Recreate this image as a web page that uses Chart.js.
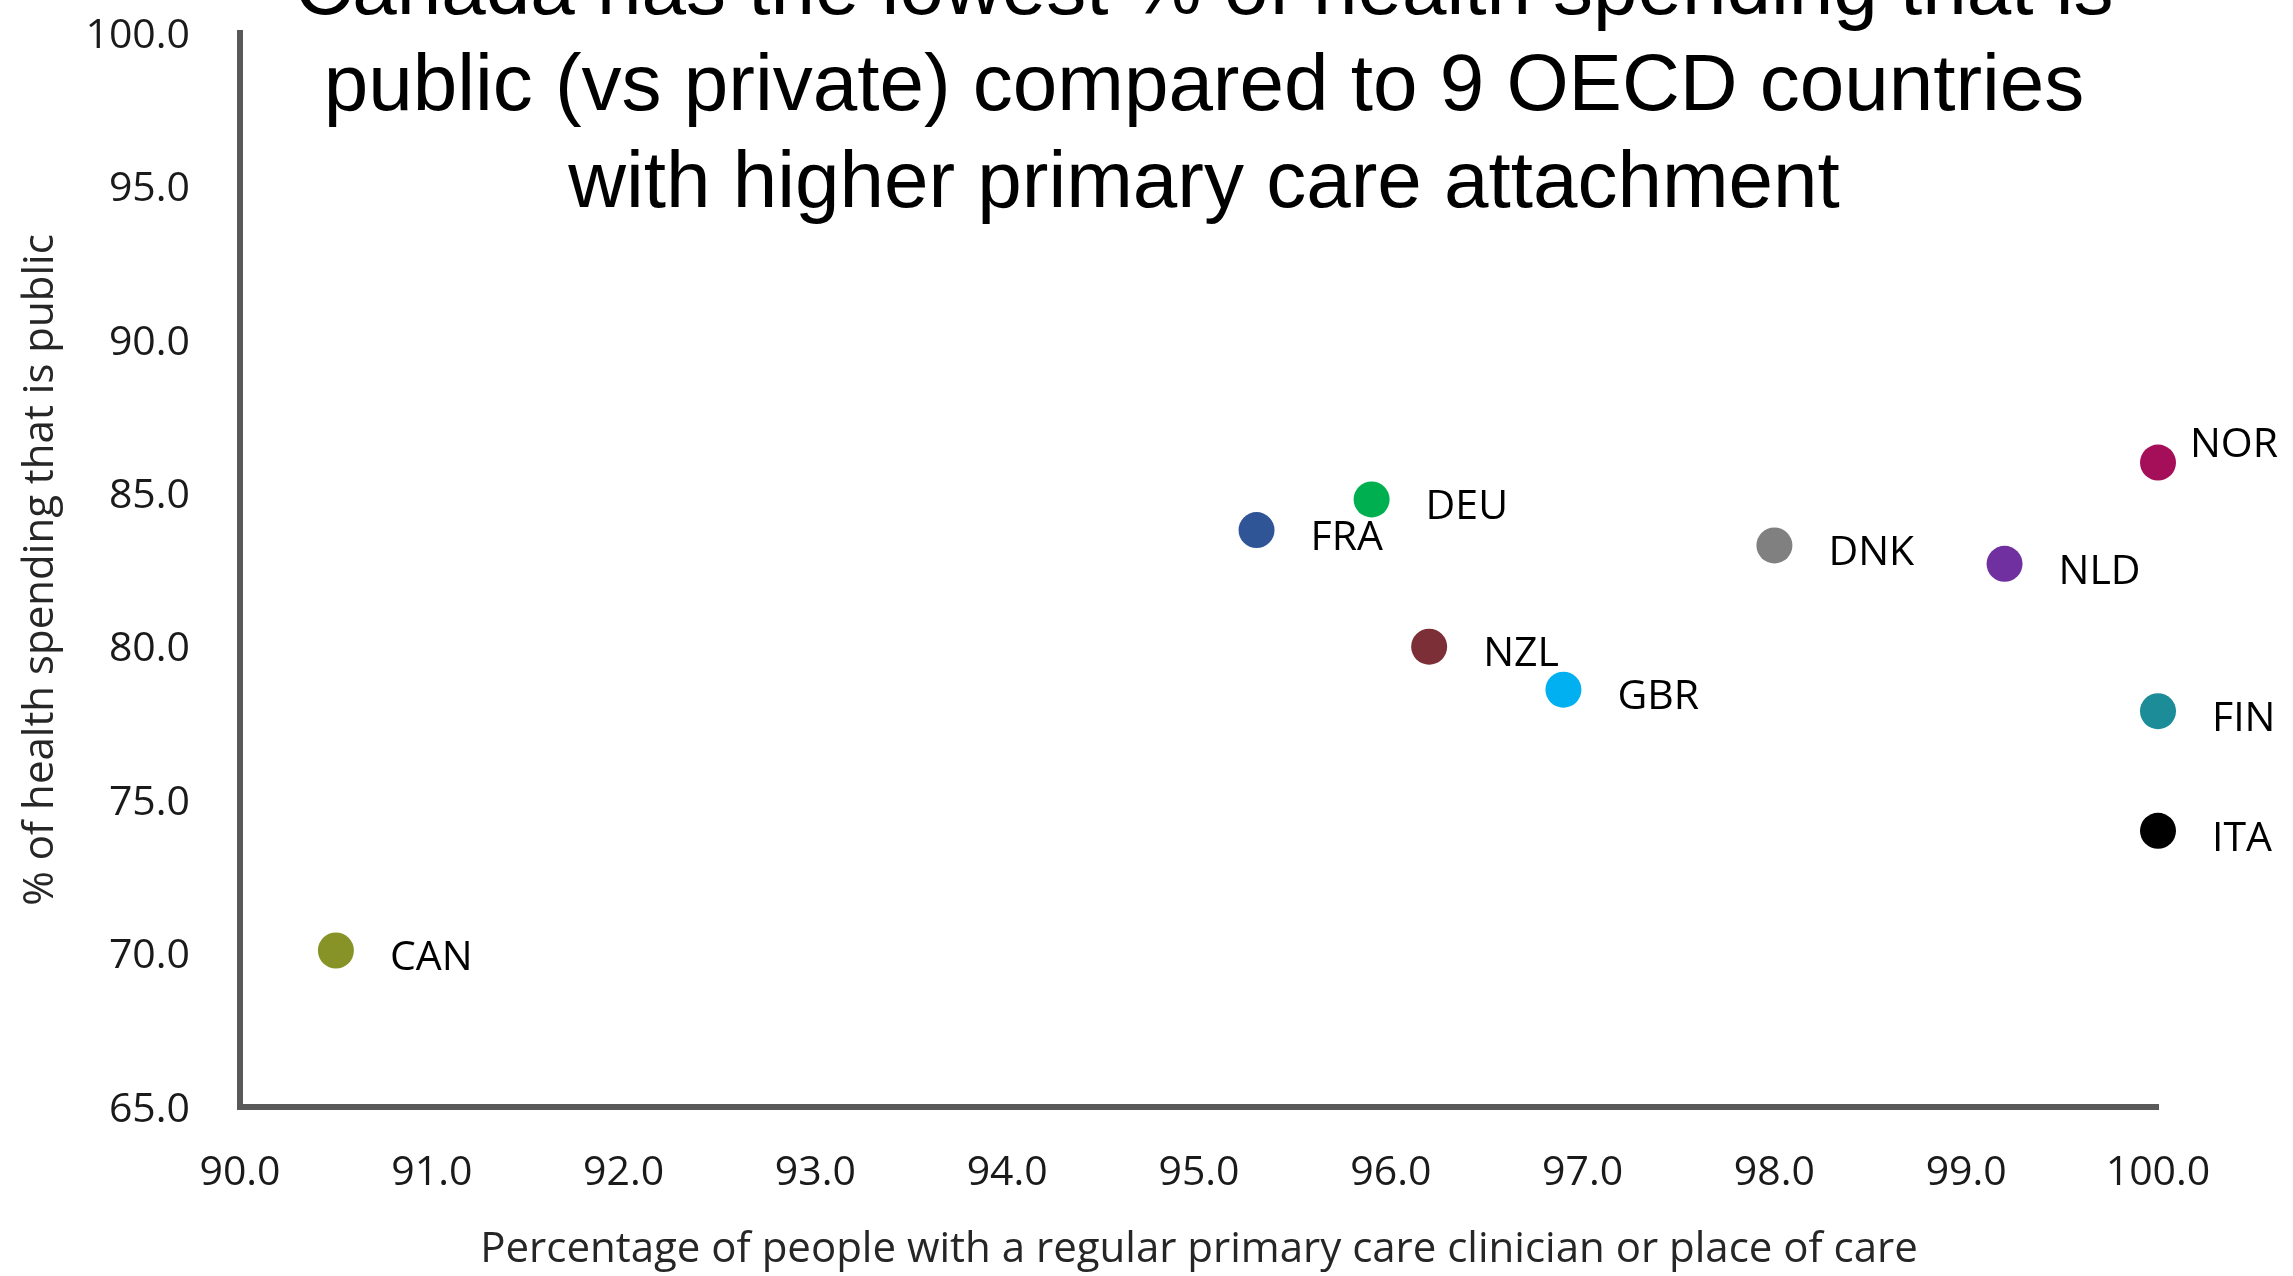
<!DOCTYPE html>
<html>
<head>
<meta charset="utf-8">
<script src="https://cdn.jsdelivr.net/npm/chart.js@4.4.0/dist/chart.umd.min.js"></script>
<style>
html,body{margin:0;padding:0;background:#fff;overflow:hidden}
#wrap{width:2293px;height:1276px;position:relative}
</style>
</head>
<body>
<div id="wrap"><canvas id="c"></canvas></div>
<script>
// ---- data ----
const countries   = ['CAN','FRA','DEU','NZL','GBR','DNK','NLD','NOR','FIN','ITA'];
const attachment  = [90.5, 95.3, 95.9, 96.2, 96.9, 98.0, 99.2, 100.0, 100.0, 100.0];
const publicShare = [70.1, 83.8, 84.8, 80.0, 78.6, 83.3, 82.7, 86.0, 77.9, 74.0];
const xTickValues = [90, 91, 92, 93, 94, 95, 96, 97, 98, 99, 100];
const yTickValues = [65, 70, 75, 80, 85, 90, 95, 100];
const titleLines  = [
  'Canada has the lowest % of health spending that is',
  'public (vs private) compared to 9 OECD countries',
  'with higher primary care attachment'
];
const xAxisTitle = 'Percentage of people with a regular primary care clinician or place of care';
const yAxisTitle = '% of health spending that is public';

// ---- styles ----
const pointColors = ['#879326','#2F5597','#00B050','#7D2F37','#00B0F0','#808080','#7030A0','#A50F5A','#1B8C98','#000000'];
const labelOffsetDefault = [54, 8];
const labelOffsetSpecial = { NOR: [32, -17] };
const FONT = '"Open Sans", "Noto Sans", sans-serif';

const topTitlePlugin = {
  id: 'topTitle',
  afterDraw(chart) {
    const ctx = chart.ctx, a = chart.chartArea;
    ctx.save();
    ctx.font = '80px "Liberation Sans", Arial, sans-serif';
    ctx.fillStyle = '#000';
    ctx.textAlign = 'center';
    ctx.textBaseline = 'alphabetic';
    const cx = (a.left + a.right) / 2 + 5;
    const base = 110, step = 96.5;
    titleLines.forEach((t, i) => ctx.fillText(t, cx, base + (i - 1) * step));
    ctx.restore();
  }
};

const pointLabelPlugin = {
  id: 'pointLabels',
  afterDatasetsDraw(chart) {
    const ctx = chart.ctx;
    const meta = chart.getDatasetMeta(0);
    ctx.save();
    ctx.font = '41px ' + FONT;
    ctx.fillStyle = '#000';
    ctx.textAlign = 'left';
    ctx.textBaseline = 'middle';
    meta.data.forEach((pt, i) => {
      const off = labelOffsetSpecial[countries[i]] || labelOffsetDefault;
      ctx.fillText(countries[i], pt.x + off[0], pt.y + off[1]);
    });
    ctx.restore();
  }
};

new Chart(document.getElementById('c'), {
  type: 'scatter',
  data: {
    datasets: [{
      label: 'Countries',
      data: countries.map((c, i) => ({ x: attachment[i], y: publicShare[i] })),
      backgroundColor: pointColors,
      borderWidth: 0,
      pointRadius: 18,
      pointHoverRadius: 18,
      clip: false
    }]
  },
  options: {
    responsive: true,
    maintainAspectRatio: false,
    animation: false,
    events: [],
    layout: { padding: { left: 0, top: 33, right: 135, bottom: 0 } },
    plugins: { legend: { display: false }, tooltip: { enabled: false }, title: { display: false } },
    scales: {
      x: {
        type: 'linear',
        min: 90, max: 100,
        afterBuildTicks: s => { s.ticks = xTickValues.map(v => ({ value: v })); },
        afterFit: s => { s.height = 169; s.paddingLeft = 0; s.paddingRight = 0; },
        grid: { display: false, drawTicks: false },
        border: { display: true, color: '#595959', width: 6 },
        ticks: { padding: 42, color: '#1a1a1a', font: { family: FONT, size: 41 }, callback: v => Number(v).toFixed(1), maxRotation: 0, autoSkip: false },
        title: { display: true, text: xAxisTitle, color: '#262626', font: { family: FONT, size: 42 }, padding: { top: 0, bottom: 1 } }
      },
      y: {
        type: 'linear',
        min: 65, max: 100,
        afterBuildTicks: s => { s.ticks = yTickValues.map(v => ({ value: v })); },
        afterFit: s => { s.width = 240; s.paddingTop = 0; s.paddingBottom = 0; },
        grid: { display: false, drawTicks: false },
        border: { display: true, color: '#595959', width: 6 },
        ticks: { padding: 50, labelOffset: 3, color: '#1a1a1a', font: { family: FONT, size: 41 }, callback: v => Number(v).toFixed(1), autoSkip: false },
        title: { display: true, text: yAxisTitle, color: '#262626', font: { family: FONT, size: 42 }, padding: { top: 16, bottom: 0 } }
      }
    }
  },
  plugins: [topTitlePlugin, pointLabelPlugin]
});
</script>
</body>
</html>
